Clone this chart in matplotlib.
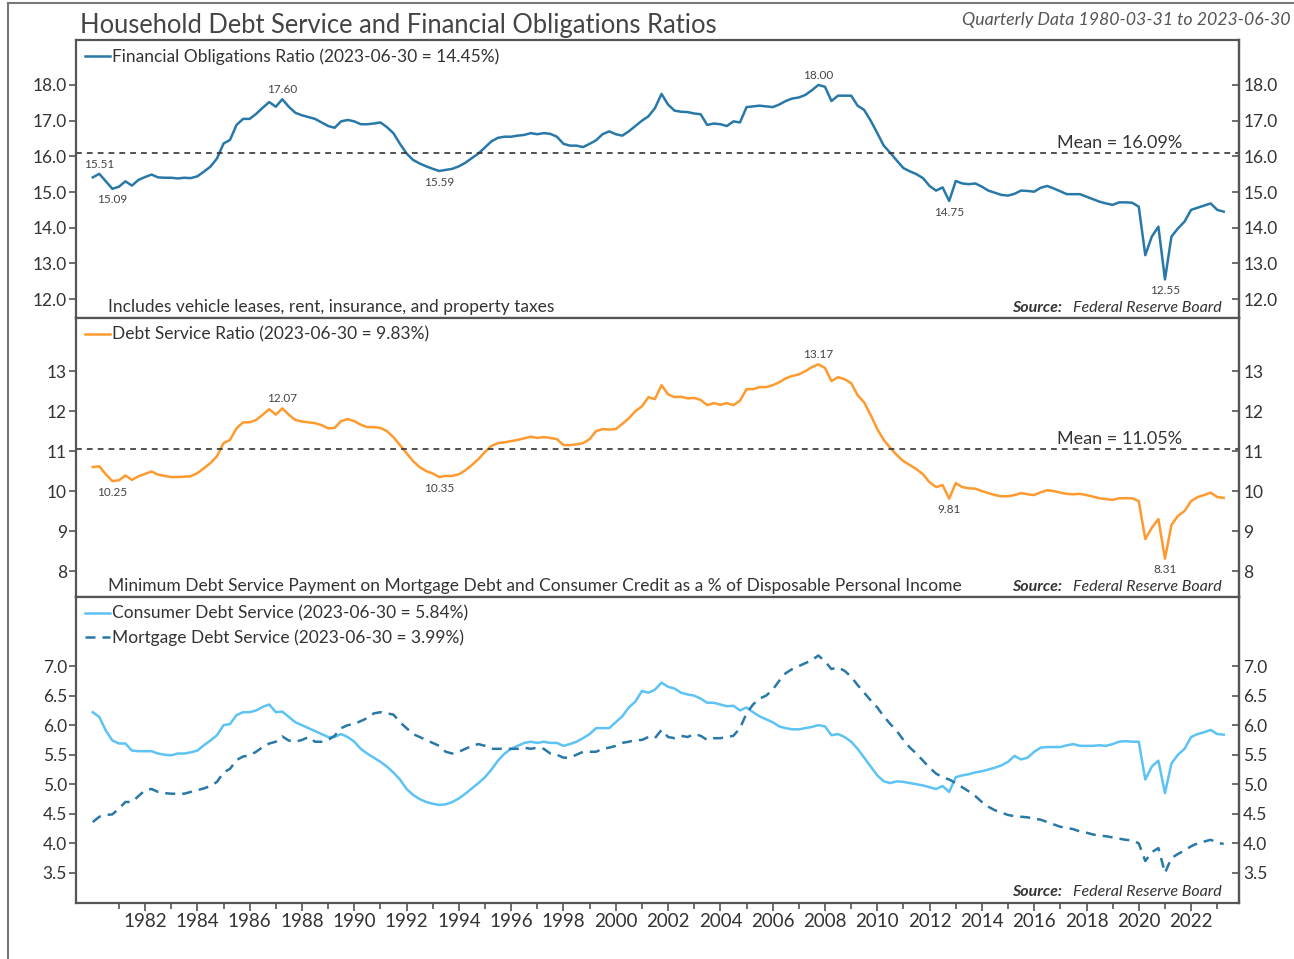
import matplotlib
matplotlib.use('Agg')
import matplotlib.pyplot as plt
import numpy as np
import pandas as pd
from matplotlib.lines import Line2D

plt.rcParams['font.family'] = ['Lato', 'DejaVu Sans']

# ---------------- DATA (quarterly, 1980Q1 .. 2023Q2) ----------------
dates = pd.date_range('1980-01-01', periods=174, freq='QS')

fin_obligations = [
    15.41, 15.51, 15.30, 15.09,  15.15, 15.30, 15.18, 15.34,  15.42, 15.49, 15.41, 15.40,
    15.40, 15.38, 15.40, 15.39,  15.44, 15.57, 15.71, 15.94,  16.36, 16.46, 16.88, 17.05,
    17.05, 17.19, 17.36, 17.52,  17.39, 17.60, 17.39, 17.22,  17.15, 17.10, 17.05, 16.95,
    16.85, 16.80, 16.98, 17.02,  16.98, 16.90, 16.90, 16.92,  16.95, 16.82, 16.65, 16.35,
    16.08, 15.90, 15.80, 15.72,  15.65, 15.59, 15.62, 15.65,  15.72, 15.82, 15.95, 16.08,
    16.25, 16.42, 16.52, 16.55,  16.55, 16.58, 16.60, 16.65,  16.62, 16.65, 16.63, 16.55,
    16.35, 16.30, 16.30, 16.26,  16.35, 16.45, 16.62, 16.70,  16.62, 16.58, 16.70, 16.85,
    17.00, 17.12, 17.35, 17.75,  17.45, 17.28, 17.25, 17.24,  17.20, 17.18, 16.88, 16.92,
    16.90, 16.85, 16.98, 16.95,  17.38, 17.40, 17.42, 17.40,  17.38, 17.45, 17.55, 17.62,
    17.65, 17.72, 17.85, 18.00,  17.95, 17.55, 17.70, 17.70,  17.70, 17.42, 17.30, 17.00,
    16.65, 16.30, 16.10, 15.88,  15.67, 15.58, 15.50, 15.39,  15.17, 15.04, 15.13, 14.75,
    15.31, 15.24, 15.22, 15.24,  15.15, 15.04, 14.98, 14.92,  14.90, 14.95, 15.04, 15.03,
    15.01, 15.12, 15.17, 15.10,  15.02, 14.94, 14.94, 14.94,  14.87, 14.80, 14.73, 14.68,
    14.64, 14.71, 14.71, 14.70,  14.59, 13.23, 13.75, 14.03,  12.55, 13.75, 13.98, 14.17,
    14.50, 14.56, 14.62, 14.68,  14.50, 14.45]

debt_service = [
    10.60, 10.62, 10.42, 10.25,  10.27, 10.39, 10.28, 10.37,  10.43, 10.49, 10.41, 10.38,
    10.35, 10.35, 10.36, 10.37,  10.45, 10.57, 10.70, 10.87,  11.20, 11.28, 11.57, 11.72,
    11.72, 11.78, 11.91, 12.05,  11.91, 12.07, 11.91, 11.78,  11.74, 11.72, 11.70, 11.65,
    11.57, 11.58, 11.75, 11.80,  11.75, 11.66, 11.60, 11.60,  11.58, 11.50, 11.35, 11.15,
    10.95, 10.75, 10.60, 10.50,  10.44, 10.35, 10.38, 10.38,  10.42, 10.52, 10.65, 10.80,
    10.98, 11.13, 11.20, 11.22,  11.25, 11.28, 11.32, 11.36,  11.33, 11.35, 11.33, 11.30,
    11.15, 11.15, 11.17, 11.20,  11.30, 11.50, 11.55, 11.54,  11.55, 11.68, 11.82, 12.00,
    12.12, 12.35, 12.30, 12.65,  12.42, 12.35, 12.36, 12.32,  12.33, 12.28, 12.15, 12.20,
    12.16, 12.20, 12.15, 12.26,  12.55, 12.55, 12.60, 12.60,  12.65, 12.72, 12.82, 12.88,
    12.92, 13.00, 13.10, 13.17,  13.08, 12.75, 12.85, 12.80,  12.70, 12.40, 12.22, 11.90,
    11.55, 11.28, 11.08, 10.90,  10.75, 10.65, 10.55, 10.42,  10.22, 10.10, 10.15, 9.81,
    10.20, 10.10, 10.07, 10.06,  10.00, 9.95, 9.90, 9.87,  9.87, 9.90, 9.95, 9.92,
    9.90, 9.97, 10.02, 10.00,  9.96, 9.93, 9.92, 9.93,  9.90, 9.86, 9.82, 9.80,
    9.78, 9.82, 9.82, 9.82,  9.75, 8.80, 9.08, 9.30,  8.31, 9.15, 9.38, 9.50,
    9.75, 9.85, 9.90, 9.96,  9.85, 9.83]

consumer_ds = [
    6.22, 6.14, 5.91, 5.74,  5.69, 5.69, 5.57, 5.56,  5.56, 5.56, 5.52, 5.50,
    5.49, 5.52, 5.52, 5.54,  5.57, 5.66, 5.74, 5.83,  6.00, 6.02, 6.17, 6.22,
    6.22, 6.25, 6.31, 6.35,  6.22, 6.23, 6.14, 6.05,  6.00, 5.95, 5.90, 5.85,
    5.80, 5.80, 5.85, 5.80,  5.72, 5.60, 5.52, 5.45,  5.38, 5.30, 5.20, 5.08,
    4.92, 4.82, 4.75, 4.70,  4.67, 4.65, 4.66, 4.70,  4.76, 4.84, 4.93, 5.02,
    5.12, 5.25, 5.40, 5.52,  5.60, 5.65, 5.70, 5.72,  5.70, 5.72, 5.70, 5.70,
    5.65, 5.68, 5.72, 5.78,  5.85, 5.95, 5.95, 5.95,  6.05, 6.15, 6.30, 6.40,
    6.58, 6.55, 6.60, 6.72,  6.65, 6.62, 6.55, 6.52,  6.50, 6.45, 6.38, 6.38,
    6.35, 6.32, 6.33, 6.25,  6.30, 6.22, 6.15, 6.10,  6.05, 5.98, 5.95, 5.93,
    5.93, 5.95, 5.97, 6.00,  5.98, 5.83, 5.85, 5.80,  5.72, 5.60, 5.45, 5.30,
    5.15, 5.05, 5.02, 5.05,  5.04, 5.02, 5.00, 4.98,  4.95, 4.92, 4.97, 4.87,
    5.12, 5.15, 5.17, 5.20,  5.22, 5.25, 5.28, 5.32,  5.38, 5.48, 5.42, 5.45,
    5.55, 5.62, 5.63, 5.63,  5.63, 5.66, 5.68, 5.65,  5.65, 5.65, 5.66, 5.65,
    5.68, 5.72, 5.73, 5.72,  5.72, 5.08, 5.30, 5.40,  4.85, 5.35, 5.50, 5.60,
    5.80, 5.85, 5.88, 5.92,  5.85, 5.84]

mortgage_ds = [
    4.36, 4.45, 4.48, 4.49,  4.59, 4.70, 4.70, 4.80,  4.90, 4.92, 4.87, 4.85,
    4.84, 4.84, 4.84, 4.87,  4.90, 4.93, 4.97, 5.04,  5.20, 5.26, 5.41, 5.47,
    5.49, 5.55, 5.63, 5.69,  5.72, 5.81, 5.74, 5.72,  5.75, 5.80, 5.72, 5.72,
    5.75, 5.82, 5.95, 6.00,  6.02, 6.07, 6.12, 6.20,  6.22, 6.20, 6.18, 6.05,
    5.95, 5.85, 5.80, 5.75,  5.70, 5.65, 5.55, 5.52,  5.55, 5.60, 5.65, 5.68,
    5.65, 5.60, 5.60, 5.60,  5.60, 5.60, 5.62, 5.60,  5.62, 5.60, 5.52, 5.50,
    5.45, 5.45, 5.50, 5.55,  5.55, 5.55, 5.60, 5.62,  5.65, 5.70, 5.72, 5.75,
    5.75, 5.80, 5.78, 5.92,  5.80, 5.78, 5.82, 5.80,  5.85, 5.82, 5.75, 5.78,
    5.78, 5.80, 5.82, 5.95,  6.20, 6.35, 6.45, 6.50,  6.60, 6.75, 6.88, 6.95,
    7.00, 7.05, 7.10, 7.18,  7.08, 6.95, 6.98, 6.92,  6.82, 6.68, 6.55, 6.42,
    6.30, 6.15, 6.02, 5.90,  5.75, 5.62, 5.52, 5.40,  5.28, 5.18, 5.12, 5.08,
    5.02, 4.95, 4.88, 4.80,  4.70, 4.62, 4.56, 4.52,  4.48, 4.46, 4.45, 4.44,
    4.42, 4.40, 4.36, 4.32,  4.28, 4.26, 4.24, 4.20,  4.18, 4.15, 4.13, 4.12,
    4.10, 4.08, 4.06, 4.05,  4.00, 3.70, 3.85, 3.92,  3.50, 3.75, 3.82, 3.88,
    3.95, 4.00, 4.03, 4.06,  4.01, 3.99]

for_mean = 16.09
dsr_mean = 11.05
for_labels_idx = [1, 3, 29, 53, 111, 131, 164]
for_labels_pos = ['above', 'below', 'above', 'below', 'above', 'below', 'below']
dsr_labels_idx = [3, 29, 53, 111, 131, 164]
dsr_labels_pos = ['below', 'above', 'below', 'above', 'below', 'below']

major_years = list(range(1982, 2023, 2))
minor_years = list(range(1981, 2024))

# ---------------- STYLE ----------------
C_FOR = '#2878a8'
C_DSR = '#fe9a2e'
C_CDS = '#5cc3f4'
C_MDS = '#2878a8'
SPINE = '#555555'
TXT = '#333333'

W_PX, H_PX = 1294, 959
fig = plt.figure(figsize=(W_PX / 100, H_PX / 100), dpi=100)
left = 76 / W_PX
width = (1239 - 76) / W_PX


def add_ax(top, bot):
    return fig.add_axes([left, 1 - bot / H_PX, width, (bot - top) / H_PX])


ax1 = add_ax(40, 318)
ax2 = add_ax(318, 597)
ax3 = add_ax(597, 903)

xlim = (pd.Timestamp('1979-05-12'), pd.Timestamp('2023-11-01'))


def style(ax, ylim, yticks, fmt):
    ax.set_xlim(*xlim)
    ax.set_ylim(*ylim)
    for s in ax.spines.values():
        s.set_color(SPINE)
        s.set_linewidth(1.6)
    ax.set_yticks(yticks)
    ax.set_yticklabels([fmt.format(v) for v in yticks])
    ax.tick_params(axis='y', which='both', direction='out', length=5, width=1.2,
                   color=SPINE, labelsize=12.5, labelcolor=TXT, pad=1.5)
    sec = ax.secondary_yaxis('right')
    sec.set_yticks(yticks)
    sec.set_yticklabels([fmt.format(v) for v in yticks])
    sec.tick_params(axis='y', direction='in', length=5, width=1.2, color=SPINE,
                    labelsize=12.5, labelcolor=TXT, pad=3)
    sec.spines['right'].set_color(SPINE)
    sec.spines['right'].set_linewidth(1.6)
    ax.set_xticks([pd.Timestamp(f'{y}-01-01') for y in major_years])
    ax.set_xticks([pd.Timestamp(f'{y}-01-01') for y in minor_years], minor=True)


style(ax1, (11.47, 19.26), [12.0, 13.0, 14.0, 15.0, 16.0, 17.0, 18.0], '{:.1f}')
style(ax2, (7.35, 14.33), [8, 9, 10, 11, 12, 13], '{:.0f}')
style(ax3, (2.99, 8.17), [3.5, 4.0, 4.5, 5.0, 5.5, 6.0, 6.5, 7.0], '{:.1f}')

for ax in (ax1, ax2):
    ax.tick_params(axis='x', which='both', bottom=False, labelbottom=False)
ax3.tick_params(axis='x', which='major', direction='out', length=6, width=1.2,
                color=SPINE, labelsize=13.5, labelcolor=TXT, pad=1)
ax3.tick_params(axis='x', which='minor', direction='out', length=4, width=1.2, color=SPINE)
ax3.set_xticklabels([str(y) for y in major_years])

mean_x = pd.Timestamp('2021-09-01')

# ---------------- PANEL 1 ----------------
ax1.plot(dates, fin_obligations, color=C_FOR, lw=1.8,
         label=f'Financial Obligations Ratio (2023-06-30 = {fin_obligations[-1]:.2f}%)')
ax1.axhline(for_mean, color='#333333', lw=1.2, dashes=(3.5, 3))
ax1.text(mean_x, for_mean + 0.06, f'Mean = {for_mean:.2f}%',
         ha='right', va='bottom', fontsize=13, color=TXT)
for i, pos in zip(for_labels_idx, for_labels_pos):
    off = (0, 3) if pos == 'above' else (0, -4)
    ax1.annotate(f'{fin_obligations[i]:.2f}', (dates[i], fin_obligations[i]),
                 xytext=off, textcoords='offset points', ha='center',
                 va='bottom' if pos == 'above' else 'top', fontsize=8.5, color='#444444')

# ---------------- PANEL 2 ----------------
ax2.plot(dates, debt_service, color=C_DSR, lw=1.8,
         label=f'Debt Service Ratio (2023-06-30 = {debt_service[-1]:.2f}%)')
ax2.axhline(dsr_mean, color='#333333', lw=1.2, dashes=(3.5, 3))
ax2.text(mean_x, dsr_mean + 0.06, f'Mean = {dsr_mean:.2f}%',
         ha='right', va='bottom', fontsize=13, color=TXT)
for i, pos in zip(dsr_labels_idx, dsr_labels_pos):
    off = (0, 3) if pos == 'above' else (0, -4)
    ax2.annotate(f'{debt_service[i]:.2f}', (dates[i], debt_service[i]),
                 xytext=off, textcoords='offset points', ha='center',
                 va='bottom' if pos == 'above' else 'top', fontsize=8.5, color='#444444')

# ---------------- PANEL 3 ----------------
ax3.plot(dates, consumer_ds, color=C_CDS, lw=1.8,
         label=f'Consumer Debt Service (2023-06-30 = {consumer_ds[-1]:.2f}%)')
ax3.plot(dates, mortgage_ds, color=C_MDS, lw=1.8, dashes=(4, 2.8),
         label=f'Mortgage Debt Service (2023-06-30 = {mortgage_ds[-1]:.2f}%)')

for ax in (ax1, ax2, ax3):
    leg = ax.legend(loc='upper left', bbox_to_anchor=(0, 1), frameon=False,
                    fontsize=12.5, handlelength=1.45, handletextpad=0.12,
                    borderaxespad=0.3, borderpad=0.2, labelspacing=0.42)
    for t in leg.get_texts():
        t.set_color(TXT)

# notes
note_x = (108 - 76) / (1239 - 76)
ax1.text(note_x, 0.012, 'Includes vehicle leases, rent, insurance, and property taxes',
         transform=ax1.transAxes, ha='left', va='bottom', fontsize=12.5, color=TXT)
ax2.text(note_x, 0.012,
         'Minimum Debt Service Payment on Mortgage Debt and Consumer Credit as a % of Disposable Personal Income',
         transform=ax2.transAxes, ha='left', va='bottom', fontsize=12.5, color=TXT)

src_x = (1222 - 76) / (1239 - 76)
for ax in (ax1, ax2, ax3):
    t = ax.text(src_x, 0.012, 'Federal Reserve Board', transform=ax.transAxes,
                ha='right', va='bottom', fontsize=11.5, style='italic', color=TXT)
    ax.annotate('Source:', xy=(0, 0), xycoords=t, xytext=(-8, 0),
                textcoords='offset points', ha='right', va='bottom',
                fontsize=11.5, style='italic', weight='bold', color=TXT)

# title & subtitle
fig.text(80 / W_PX, 1 - 26 / H_PX, 'Household Debt Service and Financial Obligations Ratios',
         ha='left', va='center', fontsize=18.4, color='#444444')
fig.text(1290 / W_PX, 1 - 20 / H_PX, 'Quarterly Data 1980-03-31 to 2023-06-30',
         ha='right', va='center', fontsize=12.8, style='italic', color='#555555')

# outer frame lines
fig.add_artist(Line2D([8 / W_PX, 8 / W_PX], [0, 1 - 3 / H_PX], color='#777777', lw=1.5,
                      transform=fig.transFigure))
fig.add_artist(Line2D([8 / W_PX, 1], [1 - 3 / H_PX, 1 - 3 / H_PX], color='#777777', lw=1.5,
                      transform=fig.transFigure))

fig.savefig('out.png', dpi=100)
